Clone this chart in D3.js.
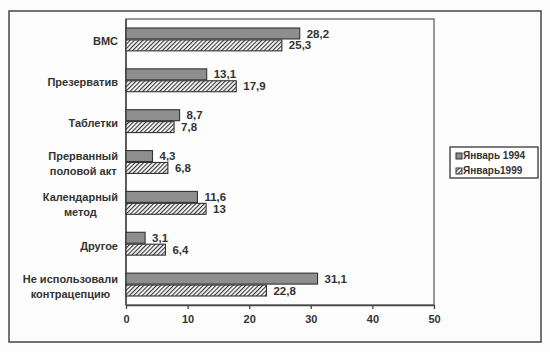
<!DOCTYPE html>
<html lang="ru">
<head>
<meta charset="UTF-8">
<title>Контрацепция</title>
<script src="https://d3js.org/d3.v7.min.js"></script>
<style>
    body { margin: 0; padding: 0; background: #fdfdfd; }
    svg { display: block; font-family: "Liberation Sans", Arial, sans-serif; }
</style>
</head>
<body>
<div id="chart"></div>
<script>
    // data
    const categories = ["ВМС", "Презерватив", "Таблетки", "Прерванный|половой акт", "Календарный|метод", "Другое", "Не использовали|контрацепцию"];
    const jan1994 = [28.2, 13.1, 8.7, 4.3, 11.6, 3.1, 31.1];
    const jan1999 = [25.3, 17.9, 7.8, 6.8, 13, 6.4, 22.8];
    const seriesNames = ["Январь 1994", "Январь1999"];
    const xTicks = [0, 10, 20, 30, 40, 50];

    const W = 550, H = 352;
    const plot = { left: 126, right: 434, top: 19, bottom: 305 };

    const svg = d3.select("#chart").append("svg")
        .attr("width", W)
        .attr("height", H);

    // hatch for the 1999 series
    const defs = svg.append("defs");
    const pat = defs.append("pattern")
        .attr("id", "hatch")
        .attr("patternUnits", "userSpaceOnUse")
        .attr("width", 3).attr("height", 3)
        .attr("patternTransform", "rotate(45)");
    pat.append("rect").attr("width", 3).attr("height", 3).attr("fill", "#fff");
    pat.append("line").attr("x1", 0.6).attr("y1", 0).attr("x2", 0.6).attr("y2", 3)
        .attr("stroke", "#2b2b2b").attr("stroke-width", 1.1);

    // outer frame
    svg.append("rect")
        .attr("x", 9).attr("y", 11).attr("width", 532).attr("height", 331)
        .attr("fill", "none").attr("stroke", "#444").attr("stroke-width", 1.5);

    const x = d3.scaleLinear().domain([0, 50]).range([plot.left, plot.right]);
    const y = d3.scaleBand().domain(d3.range(categories.length))
        .range([plot.top, plot.bottom]).paddingInner(0.44).paddingOuter(0.22);
    const ySub = d3.scaleBand().domain([0, 1]).range([0, y.bandwidth()]).paddingInner(0.08);

    // plot box
    svg.append("rect")
        .attr("x", plot.left).attr("y", plot.top)
        .attr("width", plot.right - plot.left).attr("height", plot.bottom - plot.top)
        .attr("fill", "none").attr("stroke", "#555").attr("stroke-width", 1.2);

    // x axis
    const xAxis = svg.append("g")
        .attr("transform", `translate(0,${plot.bottom})`)
        .call(d3.axisBottom(x).tickValues(xTicks).tickSize(4).tickSizeOuter(0).tickPadding(6));
    xAxis.select(".domain").attr("stroke", "#444").attr("stroke-width", 1.4);
    xAxis.selectAll(".tick line").attr("stroke", "#444").attr("stroke-width", 1.3);
    xAxis.selectAll(".tick text")
        .attr("font-size", 11).attr("font-weight", "bold").attr("fill", "#333")
        .attr("font-family", "Liberation Sans, Arial, sans-serif");

    // y axis line
    svg.append("line")
        .attr("x1", plot.left).attr("x2", plot.left)
        .attr("y1", plot.top).attr("y2", plot.bottom)
        .attr("stroke", "#444").attr("stroke-width", 1.4);

    const series = [
        { name: seriesNames[0], values: jan1994, fill: "#8e8e8e" },
        { name: seriesNames[1], values: jan1999, fill: "url(#hatch)" }
    ];
    const fmt = v => String(v).replace(".", ",");

    series.forEach((s, si) => {
        const g = svg.append("g");
        g.selectAll("rect")
            .data(s.values)
            .join("rect")
            .attr("x", x(0))
            .attr("y", (d, i) => y(i) + ySub(si))
            .attr("width", d => x(d) - x(0))
            .attr("height", ySub.bandwidth())
            .attr("fill", s.fill)
            .attr("stroke", "#333")
            .attr("stroke-width", 1.1);

        g.selectAll("text")
            .data(s.values)
            .join("text")
            .attr("x", d => x(d) + 7)
            .attr("y", (d, i) => y(i) + ySub(si) + ySub.bandwidth() / 2 + 1)
            .attr("dominant-baseline", "middle")
            .attr("font-size", 11.5)
            .attr("font-weight", "bold")
            .attr("fill", "#333")
            .text(d => fmt(d));
    });

    // category labels: lines centered among themselves, block right aligned
    const labelRight = 118;
    categories.forEach((c, i) => {
        const lines = c.split("|");
        const cy = y(i) + y.bandwidth() / 2 + 3;
        const g = svg.append("g");
        const texts = lines.map((ln, li) => g.append("text")
            .attr("y", cy + (li - (lines.length - 1) / 2) * 15)
            .attr("dominant-baseline", "middle")
            .attr("text-anchor", "middle")
            .attr("font-size", 11)
            .attr("font-weight", "bold")
            .attr("fill", "#333")
            .text(ln));
        const maxW = d3.max(texts, t => t.node().getComputedTextLength());
        texts.forEach(t => t.attr("x", labelRight - maxW / 2));
    });

    // legend
    const lg = svg.append("g").attr("transform", "translate(450,147)");
    lg.append("rect").attr("width", 88).attr("height", 31)
        .attr("fill", "#fff").attr("stroke", "#444").attr("stroke-width", 1.4);
    series.forEach((s, si) => {
        const yy = 9 + si * 15;
        lg.append("rect").attr("x", 6).attr("y", yy - 3).attr("width", 6).attr("height", 6)
            .attr("fill", s.fill).attr("stroke", "#333").attr("stroke-width", 1);
        lg.append("text").attr("x", 13).attr("y", yy)
            .attr("dominant-baseline", "middle")
            .attr("font-size", 10).attr("font-weight", "bold").attr("fill", "#333")
            .text(s.name);
    });
</script>
</body>
</html>
